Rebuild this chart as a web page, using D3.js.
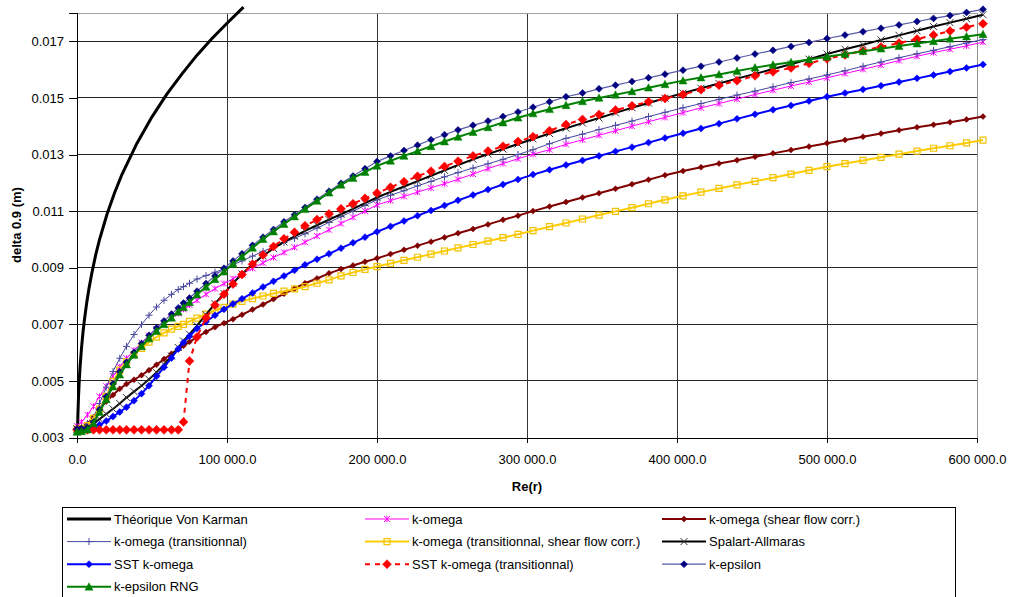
<!DOCTYPE html>
<html><head><meta charset="utf-8">
<script src="https://cdn.jsdelivr.net/npm/d3@7"></script>
<style>
body{margin:0;background:#fff;}
text{font-family:"Liberation Sans",Arial,sans-serif;fill:#000;}
</style>
</head><body>
<svg id="chart" width="1012" height="597"></svg>
<script>
// ---------------- data ----------------
const xTicks = [0, 100000, 200000, 300000, 400000, 500000, 600000];
const yTicks = [0.003, 0.005, 0.007, 0.009, 0.011, 0.013, 0.015, 0.017];

// Re(r) positions of the CFD samples
const reGrid = [0,3000,7000,11000,15000,19500,24000,28500,33000,38000,
43000,48000,53000,58000,63000,67500,71000,75000,80000,86000,
92000,98000,104000,110000,117000,124000,131000,138000,145000,152000,
160000,168000,176000,184000,192000,200000,209000,218000,227000,236000,
245000,254000,264000,274000,284000,294000,304000,315000,326000,337000,
348000,359000,370000,381000,392000,404000,416000,428000,440000,452000,
464000,476000,488000,500000,512000,524000,536000,548000,560000,571000,
582000,593000,604000];

// Théorique Von Karman
const vkRe = [300,600,1000,1500,2000,3000,4000,5000,6500,8000,10000,12500,15000,20000,25000,30000,40000,50000,60000,70000,80000,90000,100000,111000];
const vonKarman = [0.00309,0.00380,0.00443,0.00501,0.00546,0.00616,0.00672,0.00718,0.00777,0.00827,0.00884,0.00946,0.00999,0.01089,0.01164,0.01230,0.01340,0.01433,0.01514,0.01585,0.01651,0.01710,0.01764,0.01821];

const kOmega = [0.00340,0.00355,0.00380,0.00410,0.00445,0.00481,0.00517,0.00550,0.00580,0.00608,
0.00635,0.00660,0.00682,0.00702,0.00722,0.00738,0.00753,0.00768,0.00785,0.00806,
0.00826,0.00844,0.00861,0.00878,0.00898,0.00917,0.00936,0.00954,0.00972,0.00990,
0.01012,0.01034,0.01056,0.01078,0.01100,0.01122,0.01137,0.01152,0.01167,0.01182,
0.01197,0.01212,0.01231,0.01250,0.01268,0.01285,0.01301,0.01317,0.01336,0.01352,
0.01368,0.01384,0.01400,0.01416,0.01431,0.01448,0.01465,0.01480,0.01496,0.01512,
0.01527,0.01542,0.01556,0.01571,0.01586,0.01601,0.01616,0.01632,0.01647,0.01660,
0.01672,0.01684,0.01697];

const kOmegaShear = [0.00330,0.00335,0.00348,0.00372,0.00400,0.00427,0.00450,0.00472,0.00489,0.00504,
0.00520,0.00538,0.00557,0.00577,0.00596,0.00612,0.00624,0.00638,0.00655,0.00673,
0.00690,0.00704,0.00718,0.00734,0.00752,0.00770,0.00789,0.00808,0.00826,0.00845,
0.00862,0.00880,0.00895,0.00908,0.00921,0.00933,0.00948,0.00963,0.00978,0.00992,
0.01007,0.01022,0.01037,0.01053,0.01069,0.01084,0.01100,0.01116,0.01132,0.01148,
0.01163,0.01179,0.01195,0.01211,0.01227,0.01242,0.01255,0.01268,0.01280,0.01292,
0.01304,0.01316,0.01328,0.01340,0.01351,0.01363,0.01374,0.01386,0.01396,0.01405,
0.01414,0.01424,0.01434];

const kOmegaTrans = [0.00330,0.00335,0.00350,0.00370,0.00420,0.00478,0.00533,0.00580,0.00622,0.00664,
0.00699,0.00732,0.00761,0.00785,0.00806,0.00823,0.00833,0.00845,0.00860,0.00872,
0.00884,0.00896,0.00910,0.00924,0.00941,0.00958,0.00973,0.00989,0.01004,0.01020,
0.01040,0.01060,0.01080,0.01100,0.01120,0.01140,0.01156,0.01172,0.01189,0.01205,
0.01221,0.01236,0.01252,0.01267,0.01283,0.01300,0.01317,0.01338,0.01357,0.01372,
0.01388,0.01403,0.01418,0.01434,0.01449,0.01465,0.01480,0.01495,0.01510,0.01524,
0.01539,0.01554,0.01567,0.01581,0.01596,0.01612,0.01627,0.01642,0.01656,0.01668,
0.01681,0.01694,0.01706];

const kOmegaTransShear = [0.00330,0.00332,0.00342,0.00368,0.00400,0.00445,0.00498,0.00538,0.00567,0.00593,
0.00615,0.00637,0.00655,0.00670,0.00683,0.00693,0.00700,0.00710,0.00722,0.00736,
0.00749,0.00760,0.00771,0.00781,0.00791,0.00800,0.00809,0.00817,0.00825,0.00833,
0.00845,0.00857,0.00871,0.00883,0.00894,0.00904,0.00915,0.00926,0.00937,0.00948,
0.00959,0.00970,0.00982,0.00994,0.01006,0.01018,0.01031,0.01045,0.01058,0.01072,
0.01086,0.01099,0.01112,0.01126,0.01140,0.01154,0.01167,0.01180,0.01193,0.01205,
0.01218,0.01231,0.01244,0.01257,0.01268,0.01279,0.01290,0.01301,0.01312,0.01322,
0.01331,0.01341,0.01351];

const spalartAllmaras = [0.00330,0.00331,0.00335,0.00350,0.00365,0.00383,0.00401,0.00420,0.00441,0.00462,
0.00483,0.00506,0.00530,0.00558,0.00588,0.00618,0.00641,0.00665,0.00695,0.00734,
0.00773,0.00809,0.00845,0.00878,0.00912,0.00942,0.00968,0.00991,0.01011,0.01030,
0.01050,0.01070,0.01089,0.01108,0.01128,0.01148,0.01168,0.01187,0.01206,0.01225,
0.01244,0.01263,0.01283,0.01302,0.01319,0.01337,0.01355,0.01374,0.01393,0.01411,
0.01429,0.01447,0.01465,0.01482,0.01499,0.01517,0.01534,0.01551,0.01568,0.01585,
0.01602,0.01619,0.01637,0.01655,0.01672,0.01688,0.01705,0.01721,0.01737,0.01752,
0.01766,0.01780,0.01794];

const sstKOmega = [0.00330,0.00330,0.00331,0.00335,0.00345,0.00358,0.00374,0.00390,0.00407,0.00430,
0.00455,0.00483,0.00516,0.00548,0.00581,0.00613,0.00636,0.00658,0.00685,0.00709,
0.00732,0.00753,0.00772,0.00790,0.00811,0.00832,0.00852,0.00871,0.00891,0.00910,
0.00930,0.00949,0.00969,0.00988,0.01008,0.01027,0.01046,0.01065,0.01084,0.01102,
0.01120,0.01138,0.01157,0.01176,0.01194,0.01212,0.01229,0.01246,0.01263,0.01279,
0.01295,0.01311,0.01326,0.01342,0.01358,0.01375,0.01392,0.01409,0.01426,0.01442,
0.01458,0.01473,0.01489,0.01504,0.01517,0.01530,0.01543,0.01556,0.01569,0.01581,
0.01593,0.01606,0.01618];

const sstKOmegaTrans = [0.00327,0.00327,0.00327,0.00327,0.00327,0.00327,0.00327,0.00327,0.00327,0.00327,
0.00327,0.00327,0.00327,0.00327,0.00327,0.00327,0.00355,0.00570,0.00655,0.00722,
0.00768,0.00806,0.00842,0.00876,0.00912,0.00945,0.00975,0.01002,0.01025,0.01048,
0.01070,0.01090,0.01108,0.01126,0.01145,0.01164,0.01184,0.01204,0.01223,0.01241,
0.01258,0.01276,0.01295,0.01312,0.01329,0.01346,0.01363,0.01384,0.01406,0.01424,
0.01441,0.01457,0.01472,0.01486,0.01498,0.01512,0.01529,0.01545,0.01561,0.01578,
0.01592,0.01606,0.01622,0.01638,0.01652,0.01667,0.01680,0.01694,0.01708,0.01722,
0.01736,0.01750,0.01762];

const kEpsilon = [0.00330,0.00331,0.00335,0.00355,0.00398,0.00445,0.00490,0.00532,0.00566,0.00601,
0.00632,0.00661,0.00687,0.00712,0.00736,0.00758,0.00775,0.00793,0.00817,0.00844,
0.00871,0.00898,0.00924,0.00949,0.00979,0.01008,0.01035,0.01062,0.01087,0.01113,
0.01142,0.01170,0.01198,0.01224,0.01250,0.01275,0.01295,0.01314,0.01333,0.01352,
0.01370,0.01387,0.01403,0.01418,0.01434,0.01450,0.01467,0.01486,0.01504,0.01517,
0.01532,0.01545,0.01558,0.01571,0.01584,0.01598,0.01612,0.01627,0.01641,0.01655,
0.01668,0.01682,0.01696,0.01710,0.01722,0.01734,0.01746,0.01758,0.01770,0.01781,
0.01791,0.01802,0.01813];

const kEpsilonRNG = [0.00320,0.00322,0.00328,0.00350,0.00390,0.00435,0.00480,0.00522,0.00558,0.00592,
0.00622,0.00650,0.00676,0.00700,0.00723,0.00744,0.00760,0.00778,0.00805,0.00832,
0.00859,0.00886,0.00913,0.00939,0.00970,0.01001,0.01028,0.01054,0.01081,0.01107,
0.01136,0.01165,0.01193,0.01217,0.01238,0.01260,0.01278,0.01295,0.01312,0.01329,
0.01346,0.01362,0.01379,0.01396,0.01413,0.01430,0.01445,0.01460,0.01474,0.01488,
0.01500,0.01511,0.01523,0.01536,0.01548,0.01561,0.01572,0.01583,0.01595,0.01607,
0.01617,0.01626,0.01636,0.01645,0.01655,0.01665,0.01674,0.01683,0.01692,0.01700,
0.01709,0.01717,0.01725];

const seriesNames = ["Théorique Von Karman","k-omega","k-omega (shear flow corr.)",
"k-omega (transitionnal)","k-omega (transitionnal, shear flow corr.)","Spalart-Allmaras",
"SST k-omega","SST k-omega (transitionnal)","k-epsilon","k-epsilon RNG"];

// ---------------- styles ----------------
const series = [
  {name:seriesNames[0], xs:vkRe, ys:vonKarman, stroke:"#000", w:3, marker:null},
  {name:seriesNames[1], xs:reGrid, ys:kOmega, stroke:"#ff00ff", w:1, marker:{t:"star", s:3, fill:"none", stroke:"#ff00ff", sw:1}},
  {name:seriesNames[2], xs:reGrid, ys:kOmegaShear, stroke:"#800000", w:2, marker:{t:"diamond", s:3, fill:"#800000", stroke:"#800000", sw:0.5}},
  {name:seriesNames[3], xs:reGrid, ys:kOmegaTrans, stroke:"#4848a0", w:1, marker:{t:"plus", s:3.5, fill:"none", stroke:"#4848a0", sw:1}},
  {name:seriesNames[4], xs:reGrid, ys:kOmegaTransShear, stroke:"#ffcc00", w:2, marker:{t:"square", s:3, fill:"none", stroke:"#f2c200", sw:1.2}},
  {name:seriesNames[5], xs:reGrid, ys:spalartAllmaras, stroke:"#000", w:2, marker:{t:"x", s:3.5, fill:"none", stroke:"#333", sw:1}},
  {name:seriesNames[6], xs:reGrid, ys:sstKOmega, stroke:"#0000ff", w:2, marker:{t:"diamond", s:3.5, fill:"#0000ff", stroke:"#0000ff", sw:0.5}},
  {name:seriesNames[7], xs:reGrid, ys:sstKOmegaTrans, stroke:"#ff0000", w:2, dash:"5,5", marker:{t:"diamond", s:4.5, fill:"#ff0000", stroke:"#ff0000", sw:0.5}},
  {name:seriesNames[8], xs:reGrid, ys:kEpsilon, stroke:"#5a5aa8", w:1.2, marker:{t:"diamond", s:3.5, fill:"#000080", stroke:"#000080", sw:0.5}},
  {name:seriesNames[9], xs:reGrid, ys:kEpsilonRNG, stroke:"#008000", w:2, marker:{t:"triangle", s:4, fill:"#008000", stroke:"#008000", sw:0.5}}
];

function markerPath(t, s){
  switch(t){
    case "diamond": return `M0,${-s}L${s},0L0,${s}L${-s},0Z`;
    case "triangle": return `M0,${-s}L${s},${s*0.85}L${-s},${s*0.85}Z`;
    case "square": return `M${-s},${-s}H${s}V${s}H${-s}Z`;
    case "x": return `M${-s},${-s}L${s},${s}M${-s},${s}L${s},${-s}`;
    case "plus": return `M${-s},0H${s}M0,${-s}V${s}`;
    case "star": return `M${-s},${-s}L${s},${s}M${-s},${s}L${s},${-s}M0,${-s}V${s}`;
  }
  return "";
}

// ---------------- layout ----------------
const svg = d3.select("#chart");
svg.append("rect").attr("width",1012).attr("height",597).attr("fill","#fff");

const x = d3.scaleLinear().domain([0,600000]).range([77,977]);
const y = d3.scaleLinear().domain([0.003,0.018]).range([437.5,13]);

// gridlines
const grid = svg.append("g").attr("shape-rendering","crispEdges");
grid.selectAll(".hg").data(yTicks.filter(d=>d>0.003)).enter().append("line")
  .attr("x1",77).attr("x2",977).attr("y1",d=>y(d)).attr("y2",d=>y(d))
  .attr("stroke","#222").attr("stroke-width",1);
grid.selectAll(".vg").data(xTicks.filter(d=>d>0)).enter().append("line")
  .attr("x1",d=>x(d)).attr("x2",d=>x(d)).attr("y1",13).attr("y2",437.5)
  .attr("stroke",d=>d===600000?"#909090":"#333").attr("stroke-width",1);
// plot border top
grid.append("line").attr("x1",77).attr("x2",977).attr("y1",13).attr("y2",13).attr("stroke","#a0a0a0");

// axes
const fmtX = d => d3.format(",.1f")(d).replace(/,/g," ");
const yAxis = svg.append("g").attr("transform","translate(77,0)")
  .call(d3.axisLeft(y).tickValues(yTicks).tickSize(8).tickPadding(5).tickFormat(d3.format(".3f")));
const xAxis = svg.append("g").attr("transform","translate(0,437.5)")
  .call(d3.axisBottom(x).tickValues(xTicks).tickSize(5).tickPadding(12).tickFormat(fmtX));
[yAxis,xAxis].forEach(a=>{
  a.attr("shape-rendering","crispEdges");
  a.selectAll("path,line").attr("stroke","#000");
  a.selectAll("text").attr("font-size","13px").attr("font-family","'Liberation Sans',Arial,sans-serif").attr("fill","#000");
});

// axis titles
svg.append("text").attr("transform","translate(21,225) rotate(-90)").attr("text-anchor","middle")
  .attr("font-size","13px").attr("font-weight","bold").text("delta 0.9 (m)");
svg.append("text").attr("x",527).attr("y",491).attr("text-anchor","middle")
  .attr("font-size","13px").attr("font-weight","bold").text("Re(r)");

// series
const plot = svg.append("g");
series.forEach(s=>{
  const pts = s.xs.map((v,i)=>[v, s.ys[i]]);
  const line = d3.line().x(d=>x(d[0])).y(d=>y(d[1]));
  const g = plot.append("g");
  g.append("path").attr("d",line(pts)).attr("fill","none").attr("stroke",s.stroke)
    .attr("stroke-width",s.w).attr("stroke-dasharray",s.dash||null).attr("stroke-linejoin","round");
  if(s.marker){
    g.selectAll("path.m").data(pts).enter().append("path").attr("class","m")
      .attr("transform",d=>`translate(${x(d[0])},${y(d[1])})`)
      .attr("d",markerPath(s.marker.t,s.marker.s))
      .attr("fill",s.marker.fill).attr("stroke",s.marker.stroke).attr("stroke-width",s.marker.sw);
  }
});

// legend
const lg = svg.append("g");
lg.append("rect").attr("x",62.5).attr("y",507.5).attr("width",893).attr("height",110)
  .attr("fill","#fff").attr("stroke","#000").attr("stroke-width",1);
const colX = [67,365,662];
series.forEach((s,i)=>{
  const cx = colX[i%3], cy = 519 + Math.floor(i/3)*22.6;
  const it = lg.append("g");
  it.append("line").attr("x1",cx).attr("x2",cx+44).attr("y1",cy).attr("y2",cy)
    .attr("stroke",s.stroke).attr("stroke-width",s.w).attr("stroke-dasharray",s.dash||null);
  if(s.marker){
    it.append("path").attr("transform",`translate(${cx+22},${cy})`).attr("d",markerPath(s.marker.t,s.marker.s))
      .attr("fill",s.marker.fill).attr("stroke",s.marker.stroke).attr("stroke-width",s.marker.sw);
  }
  it.append("text").attr("x",cx+47).attr("y",cy+4.5).attr("font-size","13px").text(s.name);
});
</script>
</body></html>
